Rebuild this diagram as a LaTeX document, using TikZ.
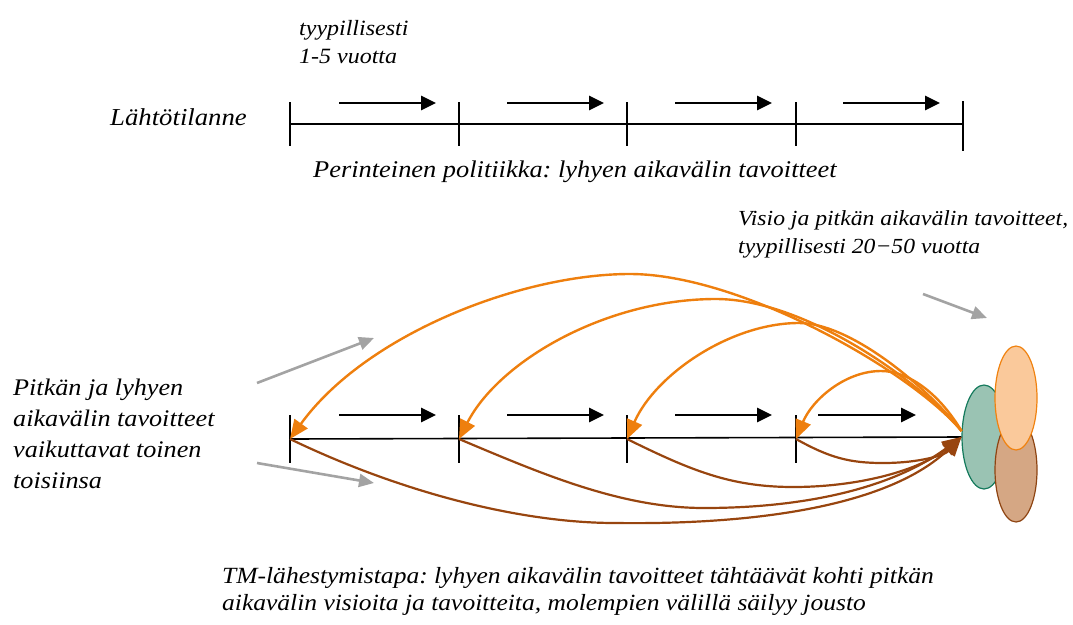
\documentclass[tikz,border=0pt]{standalone}
\usepackage{fontspec}
\setmainfont[FakeStretch=1.1]{Liberation Serif}
\frenchspacing
\usetikzlibrary{arrows.meta, shapes.geometric}
\definecolor{tmorange}{HTML}{EE7F0E}
\definecolor{tmbrown}{HTML}{98450F}
\definecolor{tmgray}{HTML}{A3A3A3}
\definecolor{visfill}{HTML}{FAC99B}
\definecolor{visline}{HTML}{F0820F}
\definecolor{goalfill}{HTML}{D5A784}
\definecolor{goalline}{HTML}{8E4412}
\definecolor{nowfill}{HTML}{9AC3B3}
\definecolor{nowline}{HTML}{147A5C}
\tikzset{
  txt/.style={font=\fontsize{24}{31}\selectfont\itshape, inner sep=0pt, align=left, anchor=base west},
  tickmark/.style={rectangle, fill=black, minimum width=1.6pt, minimum height=44pt, inner sep=0pt},
  axis/.style={draw=black, line width=1.6pt},
  fwd/.style={-{Triangle[length=15pt,width=14pt]}, draw=black, line width=2.8pt},
  back/.style={-{Triangle[length=19pt,width=16pt]}, draw=tmorange, line width=2.4pt},
  push/.style={-{Triangle[length=19pt,width=16pt]}, draw=tmbrown, line width=2.2pt},
  hint/.style={-{Triangle[length=15pt,width=13pt]}, draw=tmgray, line width=2.6pt},
  goal/.style={ellipse, minimum width=42pt, minimum height=104pt, line width=1.2pt, inner sep=0pt},
}

\begin{document}
\begin{tikzpicture}[x=1pt, y=-1pt]
\useasboundingbox (0,0) rectangle (1073,624);

\node[txt, font=\fontsize{21.8}{28}\selectfont\itshape] (LEN) at (299,63) {tyypillisesti\\1-5 vuotta};
\node[txt, font=\fontsize{24.3}{31}\selectfont\itshape] (START) at (110,125) {Lähtötilanne};
\node[txt] (TRAD) at (313,177) {Perinteinen politiikka: lyhyen aikavälin tavoitteet};
\node[txt, font=\fontsize{21.5}{28}\selectfont\itshape] (VIS) at (738,253) {Visio ja pitkän aikavälin tavoitteet,\\tyypillisesti 20−50 vuotta};
\node[txt, font=\fontsize{23.8}{31}\selectfont\itshape] (MUT) at (13,488) {Pitkän ja lyhyen\\aikavälin tavoitteet\\vaikuttavat toinen\\toisiinsa};
\node[txt, font=\fontsize{23.2}{27}\selectfont\itshape] (TM) at (222,610) {TM-lähestymistapa: lyhyen aikavälin tavoitteet tähtäävät kohti pitkän\\aikavälin visioita ja tavoitteita, molempien välillä säilyy jousto};

\node[tickmark] (a0) at (290,124) {};
\node[tickmark] (a1) at (459,124) {};
\node[tickmark] (a2) at (627,124) {};
\node[tickmark] (a3) at (796,124) {};
\node[tickmark, minimum height=50pt] (a4) at (963,126) {};
\draw[axis] (a0.center) -- (a4.center |- a0.center);

\coordinate (p1) at (339,103); \coordinate (q1) at (436,103);
\coordinate (p2) at (507,103); \coordinate (q2) at (604,103);
\coordinate (p3) at (675,103); \coordinate (q3) at (772,103);
\coordinate (p4) at (843,103); \coordinate (q4) at (940,103);
\draw[fwd] (p1) -- (q1);
\draw[fwd] (p2) -- (q2);
\draw[fwd] (p3) -- (q3);
\draw[fwd] (p4) -- (q4);

\node[goal, draw=nowline, fill=nowfill, minimum width=44pt] (NOW) at (984,437) {};
\node[goal, draw=goalline, fill=goalfill] (GOAL) at (1016,470) {};
\node[goal, draw=visline, fill=visfill] (VISION) at (1016,398) {};

\node[tickmark, minimum height=48pt] (b0) at (290,439) {};
\node[tickmark, minimum height=48pt] (b1) at (459,439) {};
\node[tickmark, minimum height=48pt] (b2) at (627,439) {};
\node[tickmark, minimum height=48pt] (b3) at (796,439) {};
\draw[axis] (b0.center) -- (NOW.west);

\coordinate (r1) at (339,415); \coordinate (s1) at (436,415);
\coordinate (r2) at (507,415); \coordinate (s2) at (604,415);
\coordinate (r3) at (675,415); \coordinate (s3) at (772,415);
\coordinate (r4) at (818,415); \coordinate (s4) at (916,415);
\draw[fwd] (r1) -- (s1);
\draw[fwd] (r2) -- (s2);
\draw[fwd] (r3) -- (s3);
\draw[fwd] (r4) -- (s4);

\draw[back] (NOW.165) .. controls (910,370) and (740,274) .. (630,274)
  .. controls (520,274) and (365,335) .. (b0.center);
\draw[back] (NOW.165) .. controls (922,383) and (806,299) .. (716,299)
  .. controls (606,299) and (499,361) .. (b1.center);
\draw[back] (NOW.165) .. controls (925,385) and (850,323) .. (799,323)
  .. controls (730,323) and (655,375) .. (b2.center);
\draw[back] (NOW.165) .. controls (940,395) and (910,371) .. (881,371)
  .. controls (845,371) and (812,400) .. (b3.center);

\draw[push] (b0.center) .. controls (400,492) and (520,523) .. (615,523)
  .. controls (760,525) and (890,505) .. (NOW.west);
\draw[push] (b1.center) .. controls (540,473) and (620,508) .. (704,508)
  .. controls (800,508) and (890,490) .. (NOW.west);
\draw[push] (b2.center) .. controls (690,470) and (730,487) .. (793,487)
  .. controls (860,487) and (920,470) .. (NOW.west);
\draw[push] (b3.center) .. controls (830,458) and (850,463) .. (883,463)
  .. controls (920,463) and (945,455) .. (NOW.west);

\coordinate (m1) at (257,383); \coordinate (n1) at (374,338);
\coordinate (m2) at (257,463); \coordinate (n2) at (374,483);
\coordinate (m3) at (923,294); \coordinate (n3) at (987,318);
\draw[hint] (m1) -- (n1);
\draw[hint] (m2) -- (n2);
\draw[hint] (m3) -- (n3);
\end{tikzpicture}
\end{document}
